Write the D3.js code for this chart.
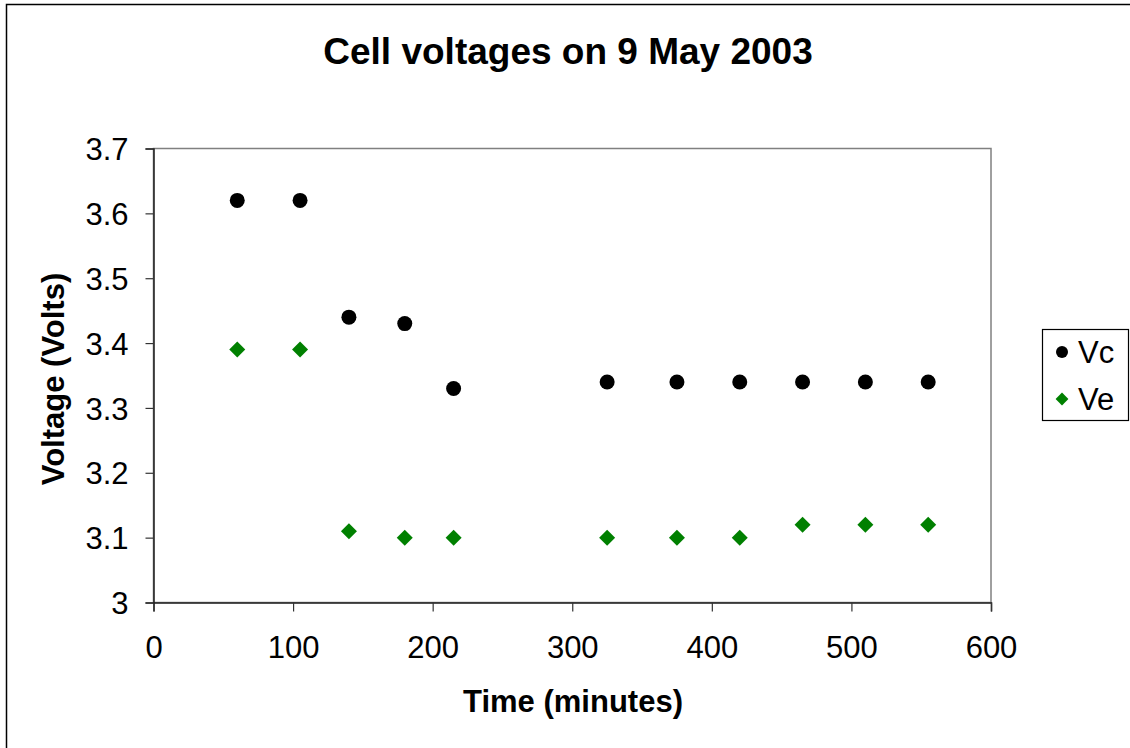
<!DOCTYPE html>
<html>
<head>
<meta charset="utf-8">
<script src="https://cdn.jsdelivr.net/npm/d3@7"></script>
<style>
  body { margin: 0; background: #fff; }
  text { font-family: "Liberation Sans", Arial, sans-serif; }
</style>
</head>
<body>
<svg class="chart"></svg>
<script>
// values
var times = [60, 105, 140, 180, 215, 325, 375, 420, 465, 510, 555];
var vc = [3.62, 3.62, 3.44, 3.43, 3.33, 3.34, 3.34, 3.34, 3.34, 3.34, 3.34];
var ve = [3.39, 3.39, 3.11, 3.10, 3.10, 3.10, 3.10, 3.10, 3.12, 3.12, 3.12];
var xTicks = [0, 100, 200, 300, 400, 500, 600];
var yTicks = [3, 3.1, 3.2, 3.3, 3.4, 3.5, 3.6, 3.7];
var seriesNames = ["Vc", "Ve"];

var width = 1130, height = 748;
var plot = {left: 153.5, top: 148.5, right: 991, bottom: 602.5};

var svg = d3.select(".chart")
    .attr("width", width)
    .attr("height", height);

// outer chart border (runs off the right and bottom edge)
svg.append("rect")
    .attr("x", 6.5).attr("y", 4.5)
    .attr("width", width).attr("height", height)
    .attr("fill", "#fff")
    .attr("stroke", "#000")
    .attr("stroke-width", 1.5);

var x = d3.scaleLinear().domain([0, 600]).range([plot.left, plot.right]);
var y = d3.scaleLinear().domain([3, 3.7]).range([plot.bottom, plot.top]);

// plot area frame
svg.append("rect")
    .attr("x", plot.left).attr("y", plot.top)
    .attr("width", plot.right - plot.left)
    .attr("height", plot.bottom - plot.top)
    .attr("fill", "none")
    .attr("stroke", "#808080")
    .attr("stroke-width", 1.5);

var xAxis = svg.append("g")
    .attr("transform", "translate(0," + plot.bottom + ")")
    .call(d3.axisBottom(x).tickValues(xTicks).tickSize(9).tickPadding(24).tickFormat(d3.format("d")));

var yAxis = svg.append("g")
    .attr("transform", "translate(" + plot.left + ",0)")
    .call(d3.axisLeft(y).tickValues(yTicks).tickSize(8).tickPadding(17).tickFormat(function (d) { return d === 3 ? "3" : d3.format(".1f")(d); }));

[xAxis, yAxis].forEach(function (g) {
    g.select(".domain").attr("stroke", "#222").attr("stroke-width", 1.5);
    g.selectAll(".tick line").attr("stroke", "#333").attr("stroke-width", 1.2);
    g.selectAll(".tick text")
        .attr("fill", "#000")
        .style("font-size", "31px")
        .style("font-family", "Liberation Sans, Arial, sans-serif");
});
yAxis.selectAll(".tick text").attr("dy", "0.36em");
xAxis.selectAll(".tick text").attr("dy", "0.71em");

// title and axis titles
svg.append("text")
    .attr("x", 568).attr("y", 64)
    .attr("text-anchor", "middle")
    .style("font-size", "37px").style("font-weight", "bold")
    .text("Cell voltages on 9 May 2003");

svg.append("text")
    .attr("x", 573).attr("y", 712)
    .attr("text-anchor", "middle")
    .style("font-size", "31px").style("font-weight", "bold")
    .text("Time (minutes)");

svg.append("text")
    .attr("transform", "translate(64,379) rotate(-90)")
    .attr("text-anchor", "middle")
    .style("font-size", "31px").style("font-weight", "bold")
    .text("Voltage (Volts)");

// markers
var diamond = d3.symbol().type(d3.symbolSquare);

svg.append("g").selectAll("circle").data(times).enter()
    .append("circle")
    .attr("cx", function (d) { return x(d); })
    .attr("cy", function (d, i) { return y(vc[i]); })
    .attr("r", 7.5)
    .attr("fill", "#000");

svg.append("g").selectAll("path").data(times).enter()
    .append("path")
    .attr("d", diamond.size(128)())
    .attr("transform", function (d, i) { return "translate(" + x(d) + "," + y(ve[i]) + ") rotate(45)"; })
    .attr("fill", "#008000");

// legend
var legend = svg.append("g");
legend.append("rect")
    .attr("x", 1042.5).attr("y", 329.5)
    .attr("width", 86).attr("height", 91)
    .attr("fill", "#fff")
    .attr("stroke", "#000")
    .attr("stroke-width", 1.2);

var items = legend.selectAll(".item").data(seriesNames).enter()
    .append("g")
    .attr("transform", function (d, i) { return "translate(1062," + (352 + i * 47) + ")"; });

items.each(function (d, i) {
    var g = d3.select(this);
    if (i === 0) {
        g.append("circle").attr("r", 6).attr("fill", "#000");
    } else {
        g.append("path").attr("d", d3.symbol().type(d3.symbolSquare).size(82)())
            .attr("transform", "rotate(45)").attr("fill", "#008000");
    }
    g.append("text")
        .attr("x", 16).attr("dy", "0.36em")
        .style("font-size", "31px")
        .text(d);
});
</script>
</body>
</html>
